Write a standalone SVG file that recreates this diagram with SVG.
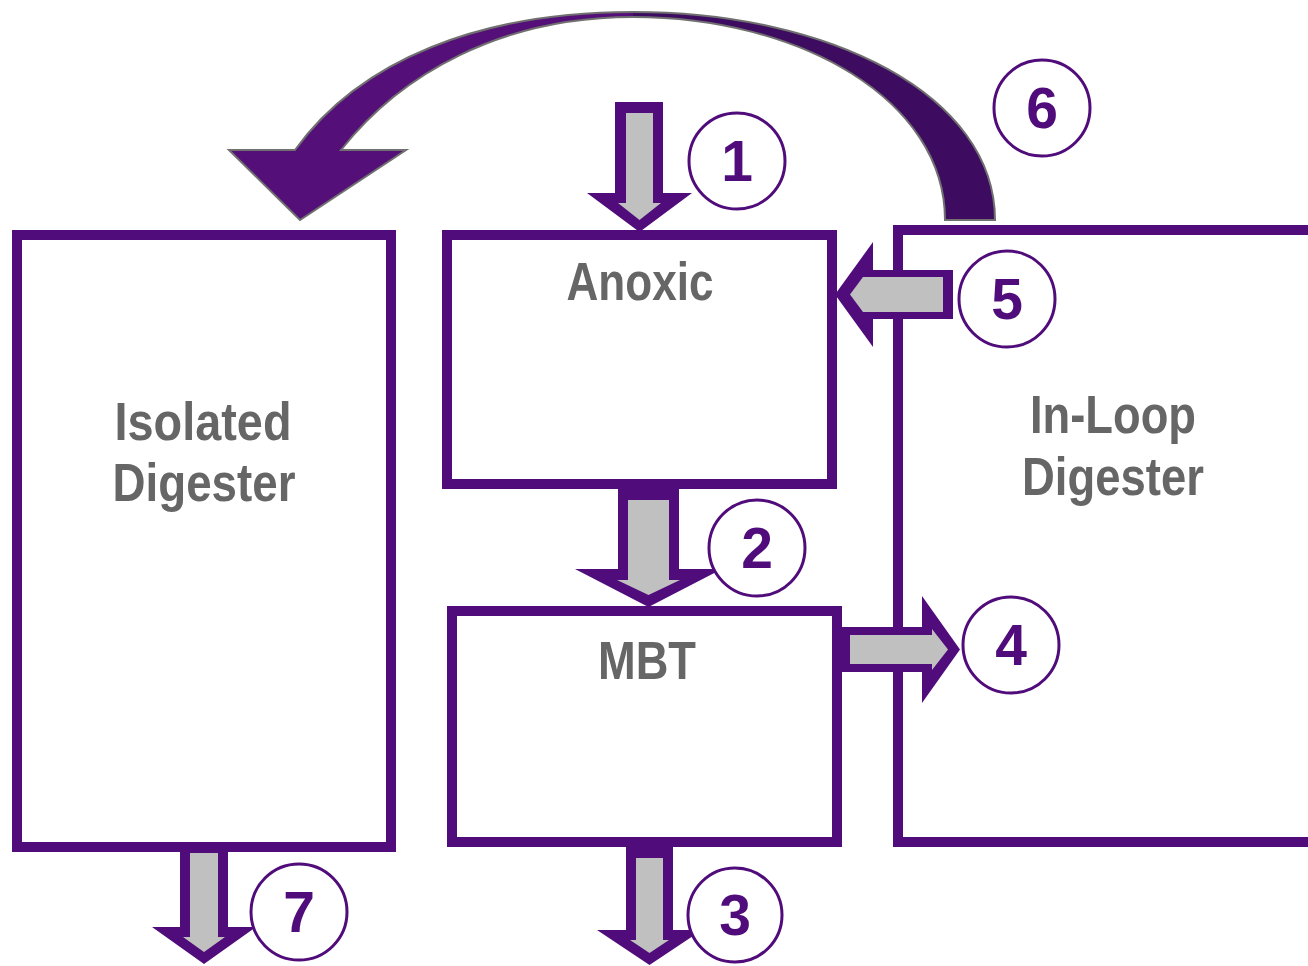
<svg xmlns="http://www.w3.org/2000/svg" width="1308" height="966" viewBox="0 0 1308 966">
  <style>
    .box { fill: #ffffff; stroke: #500c7a; stroke-width: 10; }
    .arrow-out { fill: #500c7a; }
    .arrow-in { fill: #c0c0c0; }
    .badge { fill: #ffffff; stroke: #500c7a; stroke-width: 3; }
    .num { font-family: "Liberation Sans", Arial, sans-serif; font-weight: bold; font-size: 57px; fill: #500c7a; text-anchor: middle; }
    .label { font-family: "Liberation Sans Narrow", "Liberation Sans", Arial, sans-serif; font-weight: bold; font-size: 54px; fill: #666666; text-anchor: middle; }
    .curve-out { fill: none; stroke: #707070; stroke-width: 2; stroke-linejoin: miter; }
  </style>

  <rect width="1308" height="966" fill="#ffffff"/>

  <!-- process vessels -->
  <g id="isolated-digester">
    <rect class="box" x="17" y="235" width="374" height="612"/>
    <text class="label" x="203" y="440" textLength="177" lengthAdjust="spacingAndGlyphs">Isolated</text>
    <text class="label" x="204" y="501" textLength="183" lengthAdjust="spacingAndGlyphs">Digester</text>
  </g>

  <g id="anoxic">
    <rect class="box" x="447" y="235" width="385" height="249"/>
    <text class="label" x="640" y="300" textLength="147" lengthAdjust="spacingAndGlyphs">Anoxic</text>
  </g>

  <g id="mbt">
    <rect class="box" x="452" y="611" width="385" height="231"/>
    <text class="label" x="647" y="679" textLength="98" lengthAdjust="spacingAndGlyphs">MBT</text>
  </g>

  <g id="in-loop-digester">
    <rect class="box" x="898" y="230" width="430" height="612"/>
    <text class="label" x="1113" y="433" textLength="166" lengthAdjust="spacingAndGlyphs">In-Loop</text>
    <text class="label" x="1113" y="495" textLength="182" lengthAdjust="spacingAndGlyphs">Digester</text>
  </g>

  <!-- flow connectors -->
  <g id="connectors">
    <!-- recycle arc from in-loop digester back to isolated digester -->
    <g id="flow-6">
      <path fill="#541078" d="M 633,12 C 480,12 360,60 295,150 L 229,150 L 300,220 L 406,150 L 341,150 C 400,75 500,17 633,17 Z"/>
      <path fill="#3d0c60" d="M 633,12 C 830,12 995,95 995,220 L 945,220 C 945,100 800,17 633,17 Z"/>
      <path class="curve-out" d="M 995,220 C 995,95 830,12 633,12 C 480,12 360,60 295,150 L 229,150 L 300,220 L 406,150 L 341,150 C 400,75 500,17 633,17 C 800,17 945,100 945,220 Z"/>
    </g>

    <!-- feed into anoxic -->
    <g id="flow-1">
      <polygon class="arrow-out" points="615,102 663,102 663,193 692,193 639.5,232 587,193 615,193"/>
      <polygon class="arrow-in" points="626,113 653,113 653,203 661,203 639.5,220 618,203 626,203"/>
    </g>

    <!-- anoxic to MBT -->
    <g id="flow-2">
      <polygon class="arrow-out" points="618,489 679,489 679,569 722,569 648.5,607 575,569 618,569"/>
      <polygon class="arrow-in" points="628,500 669,500 669,580 680,580 648.5,595 617,580 628,580"/>
    </g>

    <!-- MBT outflow -->
    <g id="flow-3">
      <polygon class="arrow-out" points="626,847 673,847 673,930 702,930 649.5,965 597,930 626,930"/>
      <polygon class="arrow-in" points="636,858 663,858 663,940 669,940 649.5,953 630,940 636,940"/>
    </g>

    <!-- MBT to in-loop digester -->
    <g id="flow-4">
      <polygon class="arrow-out" points="838,627 922,627 922,596 960,649.5 922,703 922,672 838,672"/>
      <polygon class="arrow-in" points="850,635 932,635 932,629 948,649.5 932,670 932,664 850,664"/>
    </g>

    <!-- in-loop digester return to anoxic -->
    <g id="flow-5">
      <polygon class="arrow-out" points="953,270 953,319 873,319 873,347 835,294.5 873,242 873,270"/>
      <polygon class="arrow-in" points="943,277 943,312 863,312 850,294.5 863,277"/>
    </g>

    <!-- isolated digester outflow -->
    <g id="flow-7">
      <polygon class="arrow-out" points="180,852 228,852 228,927 256,927 204,964 152,927 180,927"/>
      <polygon class="arrow-in" points="190,853 218,853 218,937 225,937 204,952 183,937 190,937"/>
    </g>
  </g>

  <!-- numbered stream markers -->
  <g id="marker-1"><circle class="badge" cx="737" cy="161" r="48"/><text class="num" x="737" y="181">1</text></g>
  <g id="marker-2"><circle class="badge" cx="757" cy="548" r="48"/><text class="num" x="757" y="568">2</text></g>
  <g id="marker-3"><circle class="badge" cx="735" cy="915" r="47"/><text class="num" x="735" y="935">3</text></g>
  <g id="marker-4"><circle class="badge" cx="1011" cy="645" r="48"/><text class="num" x="1011" y="665">4</text></g>
  <g id="marker-5"><circle class="badge" cx="1007" cy="299" r="48"/><text class="num" x="1007" y="319">5</text></g>
  <g id="marker-6"><circle class="badge" cx="1042" cy="108" r="48"/><text class="num" x="1042" y="128">6</text></g>
  <g id="marker-7"><circle class="badge" cx="299" cy="912" r="48"/><text class="num" x="299" y="932">7</text></g>
</svg>
